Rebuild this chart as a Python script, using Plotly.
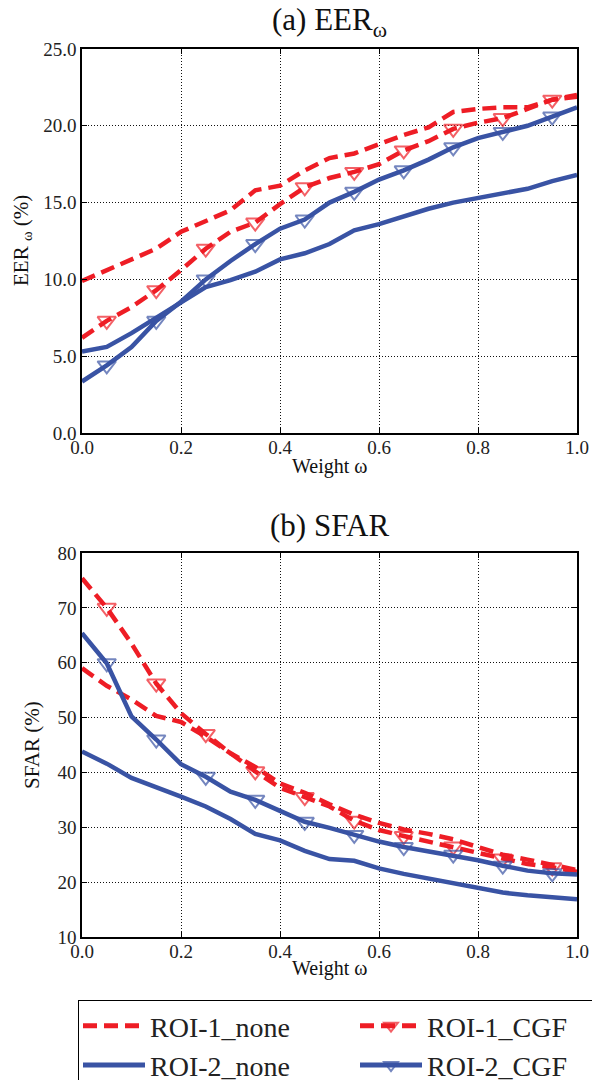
import plotly.graph_objects as go

# ---------------- data ----------------
weight = [0.00, 0.05, 0.10, 0.15, 0.20, 0.25, 0.30, 0.35, 0.40, 0.45, 0.50,
          0.55, 0.60, 0.65, 0.70, 0.75, 0.80, 0.85, 0.90, 0.95, 1.00]

eer_roi1_none = [9.9, 10.6, 11.3, 12.0, 13.1, 13.8, 14.5, 15.8, 16.1, 17.1, 17.9,
                 18.2, 18.8, 19.4, 19.9, 20.9, 21.1, 21.2, 21.2, 21.7, 22.0]
eer_roi1_cgf = [6.2, 7.3, 8.2, 9.3, 10.6, 12.0, 13.1, 13.7, 14.9, 16.0, 16.6,
                17.0, 17.5, 18.4, 19.0, 19.8, 20.2, 20.5, 21.1, 21.7, 21.9]
eer_roi2_none = [5.3, 5.6, 6.5, 7.5, 8.45, 9.5, 9.95, 10.5, 11.3, 11.7, 12.3,
                 13.2, 13.6, 14.1, 14.6, 15.0, 15.3, 15.6, 15.9, 16.4, 16.8]
eer_roi2_cgf = [3.35, 4.4, 5.6, 7.3, 8.55, 10.0, 11.2, 12.3, 13.3, 13.9, 15.0,
                15.7, 16.5, 17.1, 17.8, 18.6, 19.2, 19.6, 20.0, 20.6, 21.2]

sfar_roi1_none = [59.0, 55.8, 53.3, 50.3, 49.2, 46.5, 43.5, 41.0, 38.0, 36.3, 34.2,
                  32.3, 30.8, 29.6, 28.8, 27.8, 26.4, 25.0, 24.1, 23.2, 22.2]
sfar_roi1_cgf = [75.4, 70.0, 63.5, 56.2, 50.8, 47.0, 43.5, 40.2, 37.2, 35.5, 33.8,
                 31.2, 29.5, 28.4, 27.4, 26.5, 25.3, 24.3, 23.3, 22.7, 21.9]
sfar_roi2_none = [43.8, 41.6, 39.0, 37.4, 35.6, 33.8, 31.5, 28.8, 27.6, 25.7, 24.2,
                  23.9, 22.5, 21.5, 20.7, 19.8, 18.9, 18.1, 17.6, 17.3, 16.9]
sfar_roi2_cgf = [65.4, 59.9, 50.2, 46.0, 41.5, 39.2, 36.5, 35.0, 33.0, 31.0, 29.9,
                 28.6, 27.4, 26.4, 25.6, 25.0, 24.0, 23.0, 22.1, 21.6, 21.4]

series_names = ["ROI-1_none", "ROI-1_CGF", "ROI-2_none", "ROI-2_CGF"]
x_ticks = [0.0, 0.2, 0.4, 0.6, 0.8, 1.0]
eer_ticks = [0.0, 5.0, 10.0, 15.0, 20.0, 25.0]
sfar_ticks = [10, 20, 30, 40, 50, 60, 70, 80]

# ---------------- style ----------------
RED = "#EE1D25"
BLUE = "#3953A4"
FONT = "Liberation Serif"
DASH = "14px,7px"
LW = 4.5
msize = [16 if i % 2 == 1 else 0 for i in range(len(weight))]

styles = {
    "ROI-1_none": dict(color=RED, dash=DASH, marker=False),
    "ROI-1_CGF": dict(color=RED, dash=DASH, marker=True),
    "ROI-2_none": dict(color=BLUE, dash="solid", marker=False),
    "ROI-2_CGF": dict(color=BLUE, dash="solid", marker=True),
}

fig = go.Figure()

panels = [
    ("x", "y", [eer_roi1_none, eer_roi1_cgf, eer_roi2_none, eer_roi2_cgf], True),
    ("x2", "y2", [sfar_roi1_none, sfar_roi1_cgf, sfar_roi2_none, sfar_roi2_cgf], False),
]

for xa, ya, data, show in panels:
    for name, vals in zip(series_names, data):
        st = styles[name]
        kw = dict(
            x=weight, y=vals, name=name, xaxis=xa, yaxis=ya,
            legendgroup=name, showlegend=show,
            line=dict(color=st["color"], width=LW, dash=st["dash"]),
        )
        if st["marker"]:
            kw["mode"] = "lines+markers"
            kw["marker"] = dict(symbol="triangle-down-open", size=msize,
                                color=st["color"],
                                line=dict(color=st["color"], width=2))
        else:
            kw["mode"] = "lines"
        fig.add_trace(go.Scatter(**kw))

xdom = [82 / 592, 577 / 592]
axis_common = dict(
    showline=True, linecolor="black", linewidth=1.5, mirror="ticks",
    ticks="inside", ticklen=5, tickcolor="black", tickwidth=1,
    showgrid=True, gridcolor="#111111", gridwidth=1, griddash="1px,2px",
    zeroline=False, tickfont=dict(family=FONT, size=19, color="#222"),
)

fig.update_layout(
    width=592, height=1080,
    margin=dict(l=0, r=0, t=0, b=0, autoexpand=False),
    paper_bgcolor="white", plot_bgcolor="white",
    font=dict(family=FONT, color="#222"),
    xaxis=dict(domain=xdom, anchor="y", range=[0, 1], tickvals=x_ticks,
               tickformat=".1f", ticklabelstandoff=-4, **axis_common),
    yaxis=dict(domain=[1 - 433 / 1080, 1 - 49 / 1080], anchor="x", range=[0, 25],
               tickvals=eer_ticks, tickformat=".1f", **axis_common),
    xaxis2=dict(domain=xdom, anchor="y2", range=[0, 1], tickvals=x_ticks,
                tickformat=".1f", ticklabelstandoff=-4, **axis_common),
    yaxis2=dict(domain=[1 - 937 / 1080, 1 - 553 / 1080], anchor="x2", range=[10, 80],
                tickvals=sfar_ticks, tickformat="d", **axis_common),
    legend=dict(
        orientation="h", x=78 / 592, y=1 - 1000 / 1080, xanchor="left", yanchor="top",
        bordercolor="black", borderwidth=1, bgcolor="white",
        font=dict(family=FONT, size=28, color="#222"),
        itemsizing="constant", itemwidth=62, entrywidth=200, tracegroupgap=0,
    ),
)

xc = (xdom[0] + xdom[1]) / 2
ann = [
    dict(text="(a) EER<sub>ω</sub>", x=xc, y=1 - 22 / 1080, size=31, angle=0),
    dict(text="(b) SFAR", x=xc, y=1 - 525 / 1080, size=31, angle=0),
    dict(text="Weight ω", x=xc, y=1 - 467 / 1080, size=20, angle=0),
    dict(text="Weight ω", x=xc, y=1 - 968 / 1080, size=20, angle=0),
    dict(text="EER <sub>ω</sub> (%)", x=22 / 592, y=1 - 241 / 1080, size=21, angle=-90),
    dict(text="SFAR (%)", x=32 / 592, y=1 - 745 / 1080, size=21, angle=-90),
]
for a in ann:
    fig.add_annotation(text=a["text"], x=a["x"], y=a["y"], xref="paper", yref="paper",
                       xanchor="center", yanchor="middle", showarrow=False,
                       textangle=a["angle"],
                       font=dict(family=FONT, size=a["size"], color="#111"))

fig.write_html("out.html",
               config={"displayModeBar": False},
               post_script="document.body.style.margin='0';document.body.style.overflow='hidden';")
